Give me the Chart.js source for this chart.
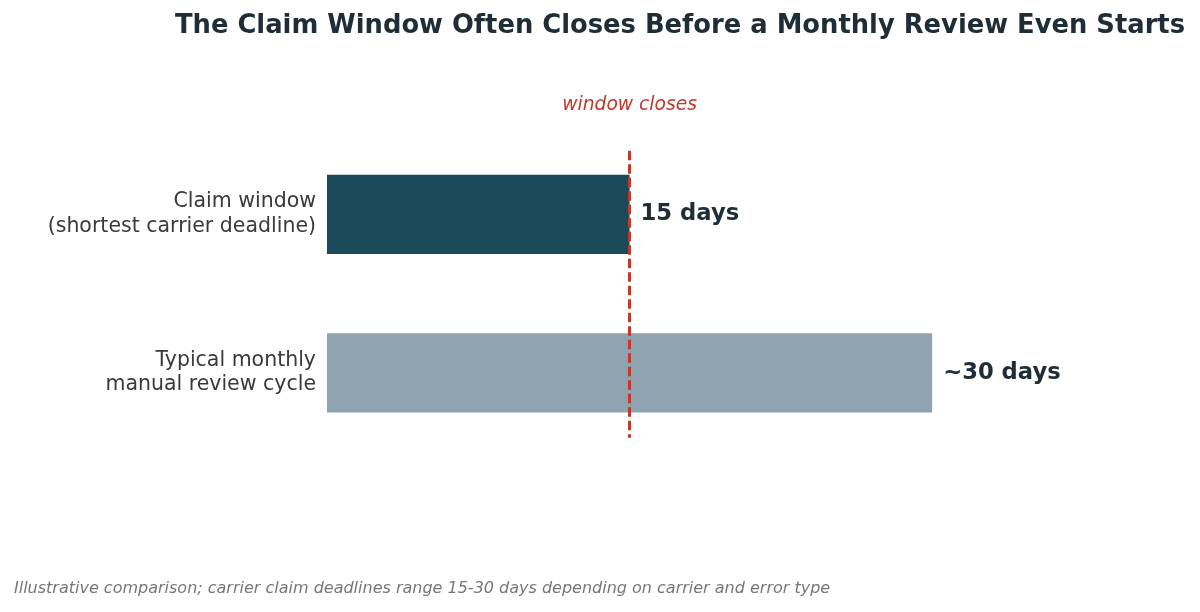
<!DOCTYPE html>
<html>
<head>
<meta charset="utf-8">
<script src="https://cdn.jsdelivr.net/npm/chart.js@4.4.1/dist/chart.umd.min.js"></script>
<style>
  html, body { margin: 0; padding: 0; background: #ffffff; }
  #wrap { width: 1200px; height: 612px; position: relative; }
</style>
</head>
<body>
<div id="wrap"><canvas id="chart"></canvas></div>
<script>
// data
const categories = [
    ['Claim window', '(shortest carrier deadline)'],
    ['Typical monthly', 'manual review cycle']
];
const dayValues = [15, 30];
const valueLabels = ['15 days', '~30 days'];
const barColors = ['#1b4a5a', '#8fa3b0'];
const windowDays = 15;
const xMax = 35;

const titleText = 'The Claim Window Often Closes Before a Monthly Review Even Starts';
const markerText = 'window closes';
const footText = 'Illustrative comparison; carrier claim deadlines range 15-30 days depending on carrier and error type';

const FONT = '"DejaVu Sans", sans-serif';

const annotations = {
    id: 'annotations',
    afterDatasetsDraw(chart) {
        const ctx = chart.ctx;
        const x = chart.scales.x;
        const y = chart.scales.y;
        const area = chart.chartArea;

        // dashed "window closes" line (snapped to half pixel so 3px stays crisp)
        const step = y.getPixelForValue(1) - y.getPixelForValue(0);
        const lx = Math.floor(x.getPixelForValue(windowDays)) + 0.5;
        ctx.save();
        ctx.strokeStyle = '#c0392b';
        ctx.lineWidth = 3;
        ctx.setLineDash([9.5, 4]);
        ctx.beginPath();
        ctx.moveTo(lx, y.getPixelForValue(0) - step * 0.4);
        ctx.lineTo(lx, y.getPixelForValue(1) + step * 0.41);
        ctx.stroke();
        ctx.restore();

        // value labels at bar ends
        const meta = chart.getDatasetMeta(0);
        ctx.save();
        ctx.fillStyle = '#1f2d36';
        ctx.font = 'bold 22.7px ' + FONT;
        ctx.textAlign = 'left';
        ctx.textBaseline = 'middle';
        meta.data.forEach((bar, i) => {
            ctx.fillText(valueLabels[i], bar.x + 11, bar.y);
        });
        ctx.restore();

        // marker text
        ctx.save();
        ctx.fillStyle = '#c0392b';
        ctx.font = 'italic 18.7px ' + FONT;
        ctx.textAlign = 'center';
        ctx.textBaseline = 'middle';
        ctx.fillText(markerText, x.getPixelForValue(windowDays), 105);
        ctx.restore();

        // title, centred over the plot area
        ctx.save();
        ctx.fillStyle = '#1f2d36';
        ctx.font = 'bold 25.8px ' + FONT;
        ctx.textAlign = 'center';
        ctx.textBaseline = 'middle';
        ctx.fillText(titleText, (area.left + area.right) / 2, 26);
        ctx.restore();

        // footnote
        ctx.save();
        ctx.fillStyle = '#777777';
        ctx.font = 'italic 16px ' + FONT;
        ctx.textAlign = 'left';
        ctx.textBaseline = 'middle';
        ctx.fillText(footText, 14, 589);
        ctx.restore();
    }
};

new Chart(document.getElementById('chart'), {
    type: 'bar',
    data: {
        labels: categories,
        datasets: [{
            data: dayValues,
            backgroundColor: barColors,
            borderWidth: 0,
            categoryPercentage: 1,
            barPercentage: 0.5
        }]
    },
    options: {
        indexAxis: 'y',
        responsive: true,
        maintainAspectRatio: false,
        animation: false,
        layout: { padding: { top: 135, bottom: 160, right: 167, left: 0 } },
        plugins: {
            legend: { display: false },
            tooltip: { enabled: false },
            title: { display: false }
        },
        scales: {
            x: {
                display: false,
                min: 0,
                max: xMax
            },
            y: {
                grid: { display: false },
                border: { display: false },
                ticks: {
                    color: '#3a3a3a',
                    font: { family: FONT, size: 20.5 },
                    padding: 3
                },
                afterFit(scale) { scale.width = 327; }
            }
        }
    },
    plugins: [annotations]
});
</script>
</body>
</html>
